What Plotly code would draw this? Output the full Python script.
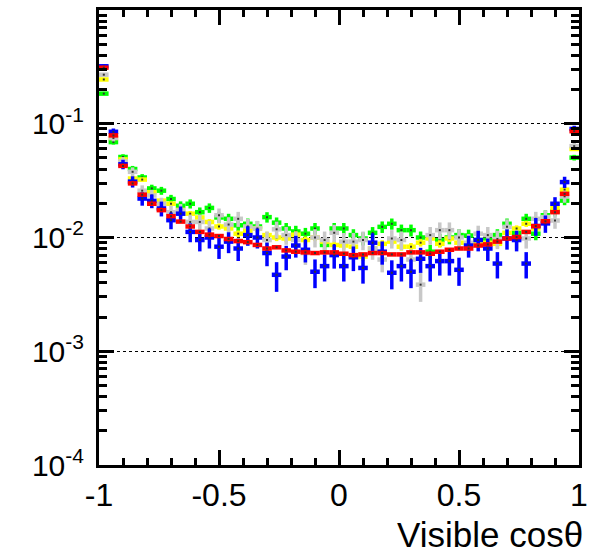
import numpy as np
import plotly.graph_objects as go

# 50 bins in visible cos(theta)
bin_edges = np.linspace(-1.0, 1.0, 51)
bin_centers = 0.5 * (bin_edges[:-1] + bin_edges[1:])
half_width = 0.5 * (bin_edges[1] - bin_edges[0])

# Normalised distributions (fraction of events per bin)
red_vals = [0.311, 0.079, 0.0426, 0.0299, 0.0238, 0.0198, 0.0174, 0.0154, 0.0138, 0.0125,
            0.0112, 0.0106, 0.0103, 0.0097, 0.0093, 0.0091, 0.0086, 0.0080, 0.0082, 0.0077,
            0.0075, 0.0074, 0.0073, 0.0074, 0.0074, 0.0072, 0.0070, 0.0071, 0.0073, 0.0073,
            0.0071, 0.0071, 0.0074, 0.0074, 0.0072, 0.0075, 0.0078, 0.0080, 0.0080, 0.0085,
            0.0087, 0.0092, 0.0098, 0.0101, 0.0112, 0.0126, 0.0139, 0.0167, 0.0242, 0.086]

green_vals = [0.184, 0.069, 0.051, 0.040, 0.0337, 0.027, 0.0258, 0.0218, 0.019, 0.0198,
              0.0167, 0.0182, 0.0150, 0.0146, 0.0128, 0.0132, 0.0125, 0.0151, 0.0135, 0.0120,
              0.0113, 0.0108, 0.0120, 0.0086, 0.0120, 0.0120, 0.0105, 0.0098, 0.0110, 0.0124,
              0.0132, 0.0116, 0.0116, 0.0100, 0.0075, 0.0095, 0.0100, 0.0105, 0.0104, 0.0095,
              0.0095, 0.0105, 0.0132, 0.0110, 0.0146, 0.0108, 0.0157, 0.0170, 0.0211, 0.0504]

yellow_vals = [0.245, 0.075, 0.0486, 0.033, 0.0323, 0.025, 0.0211, 0.0198, 0.0175, 0.0162,
               0.0150, 0.0137, 0.0125, 0.0120, 0.0108, 0.0115, 0.0120, 0.0105, 0.0100, 0.0098,
               0.0106, 0.0095, 0.0100, 0.0092, 0.0086, 0.0085, 0.0083, 0.0068, 0.0080, 0.0088,
               0.0092, 0.0083, 0.0083, 0.0090, 0.0098, 0.0088, 0.0098, 0.0090, 0.0088, 0.0092,
               0.0090, 0.0088, 0.0110, 0.0120, 0.0132, 0.0120, 0.0145, 0.0181, 0.0263, 0.060]

grey_vals = [0.27, 0.075, 0.0467, 0.0378, 0.0258, 0.0234, 0.0198, 0.0167, 0.0173, 0.0137,
             0.0137, 0.0120, 0.0157, 0.0130, 0.0146, 0.0125, 0.0120, 0.0095, 0.0118, 0.0105,
             0.0095, 0.0073, 0.0100, 0.0095, 0.0110, 0.0092, 0.0092, 0.0095, 0.0080, 0.0064,
             0.0098, 0.0095, 0.0064, 0.00385, 0.0105, 0.0116, 0.0116, 0.0100, 0.0090, 0.0108,
             0.0105, 0.0097, 0.0124, 0.0098, 0.0098, 0.0146, 0.0151, 0.0141, 0.0230, 0.0635]

blue_vals = [0.32, 0.085, 0.044, 0.031, 0.022, 0.021, 0.018, 0.0142, 0.0162, 0.0112,
             0.0095, 0.0100, 0.0083, 0.0092, 0.0080, 0.0105, 0.0100, 0.0073, 0.0047, 0.0068,
             0.0085, 0.0078, 0.0050, 0.0056, 0.0070, 0.0056, 0.0067, 0.0054, 0.0090, 0.0075,
             0.0049, 0.0056, 0.0050, 0.0065, 0.0056, 0.0062, 0.0062, 0.0052, 0.0085, 0.0095,
             0.0080, 0.0059, 0.0098, 0.0095, 0.0059, 0.0126, 0.0133, 0.0198, 0.0307, 0.090]

# Sample sizes used for the Poisson uncertainties of each distribution
sample_sizes = {"green": 6000, "yellow": 20000, "grey": 3000, "blue": 2500, "red": 300000}

series = [
    ("green", green_vals, "#00ff00"),
    ("yellow", yellow_vals, "#ffff00"),
    ("grey", grey_vals, "#c8c8c8"),
    ("blue", blue_vals, "#0000ff"),
    ("red", red_vals, "#ff0000"),
]

fig = go.Figure()
for name, vals, color in series:
    v = np.array(vals)
    err = np.sqrt(v / sample_sizes[name])
    fig.add_trace(go.Scatter(
        x=bin_centers, y=v, mode="markers", name=name,
        marker=dict(size=2, color="#333333", symbol="square"),
        error_x=dict(type="constant", value=half_width, color=color,
                     thickness=4.5, width=0),
        error_y=dict(type="data", array=err, color=color,
                     thickness=3.5, width=0),
        hoverinfo="x+y",
    ))

x_major = [-1, -0.5, 0, 0.5, 1]
x_labels = ["-1", "-0.5", "0", "0.5", "1"]
x_minor = [round(-1 + 0.1 * i, 1) for i in range(21) if i % 5 != 0]

y_major = [1e-4, 1e-3, 1e-2, 1e-1]
y_labels = ["10<sup>-4</sup>", "10<sup>-3</sup>", "10<sup>-2</sup>", "10<sup>-1</sup>"]
y_minor = [m * 10.0 ** d for d in range(-4, 0) for m in range(2, 10)]

fig.update_xaxes(
    range=[-1, 1], tickmode="array", tickvals=x_major, ticktext=x_labels,
    ticks="inside", ticklen=15, tickwidth=3, tickcolor="black",
    showline=True, linecolor="black", linewidth=3, mirror="ticks",
    showgrid=False, zeroline=False,
    tickfont=dict(family="Liberation Sans, Arial", size=32, color="black"),
    minor=dict(ticks="inside", ticklen=7, tickwidth=2.5, tickcolor="black",
               tickmode="array", tickvals=x_minor, showgrid=False),
)
fig.update_yaxes(
    type="log", range=[-4, 0], tickmode="array", tickvals=y_major, ticktext=y_labels,
    ticks="inside", ticklen=15, tickwidth=3, tickcolor="black",
    showline=True, linecolor="black", linewidth=3, mirror="ticks",
    showgrid=True, gridcolor="black", griddash="dot", gridwidth=1,
    zeroline=False, ticklabelstandoff=6,
    tickfont=dict(family="Liberation Sans, Arial", size=30, color="black"),
    minor=dict(ticks="inside", ticklen=8, tickwidth=2.5, tickcolor="black",
               tickmode="array", tickvals=y_minor, showgrid=False),
)

fig.add_annotation(
    text="Visible cos\u03b8", xref="paper", yref="paper", x=1.012, y=-0.105,
    xanchor="right", yanchor="top", showarrow=False,
    font=dict(family="Liberation Sans, Arial", size=35, color="black"),
)

fig.update_layout(
    width=595, height=553,
    margin=dict(l=99, r=13, t=7, b=88),
    plot_bgcolor="white", paper_bgcolor="white",
    showlegend=False,
)

fig.write_html("out.html")
